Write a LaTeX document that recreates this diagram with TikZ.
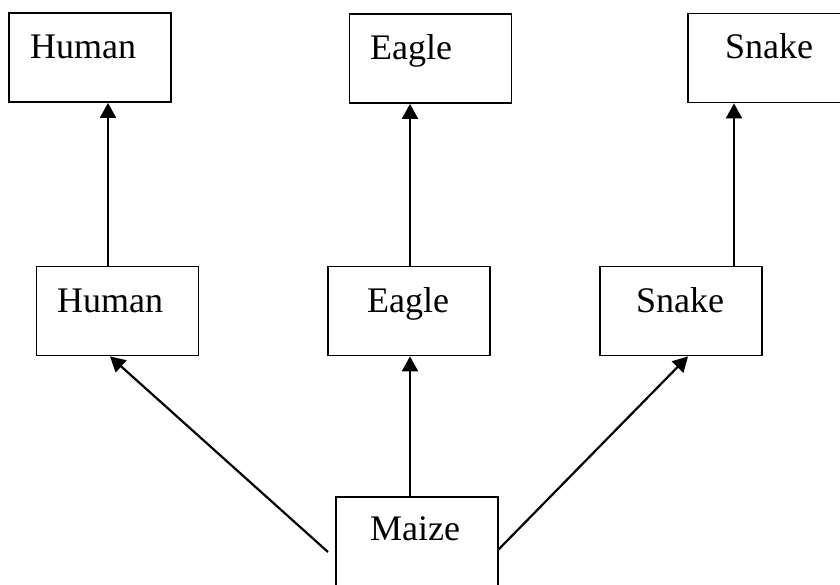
\documentclass[tikz,border=0pt]{standalone}
\usepackage{fontspec}
\setmainfont{Liberation Serif}
\usetikzlibrary{arrows.meta}
\begin{document}
\begin{tikzpicture}[x=1pt,y=-1pt,
  box/.style={draw,line width=1.8pt,rectangle,inner sep=0pt,minimum width=162pt,minimum height=89pt},
  lbl/.style={anchor=base west,inner sep=0pt,font=\fontsize{36}{40}\selectfont},
  arr/.style={line width=2.2pt,-{Triangle[length=15pt,width=16pt]}},
  ln/.style={line width=2.2pt}]
\useasboundingbox (0,0) rectangle (840,584);
\clip (0,0) rectangle (840,584);
% top row
\node[box] (ht) at (90,57.5) {};
\node[box] (et) at (430.5,58.5) {};
\node[box] (st) at (769,58) {};
% middle row
\node[box] (hm) at (117.5,311) {};
\node[box] (em) at (409,311) {};
\node[box] (sm) at (681,311) {};
% bottom
\node[box,minimum height=100pt] (mz) at (417,547) {};
% labels
\node[lbl] (tht) at (30,58) {Human};
\node[lbl] (tet) at (370,59) {Eagle};
\node[lbl] (tst) at (725,58) {Snake};
\node[lbl] (thm) at (57,312) {Human};
\node[lbl] (tem) at (367,312) {Eagle};
\node[lbl] (tsm) at (636,312) {Snake};
\node[lbl] (tmz) at (370,540) {Maize};
% connectors
\draw[arr] ([xshift=-9.5pt]hm.north) -- ([xshift=18pt]ht.south);
\draw[arr] ([xshift=1pt]em.north) -- ([xshift=-20.5pt]et.south);
\draw[arr] ([xshift=53pt]sm.north) -- ([xshift=-35pt]st.south);
\draw[arr] ([xshift=-7pt]mz.north) -- ([xshift=1pt]em.south);
\coordinate (lft) at (328,552);
\coordinate (rgt) at (498,550);
\draw[arr] (lft) -- ([xshift=-7.5pt]hm.south);
\draw[arr] (rgt) -- ([xshift=7pt]sm.south);
\end{tikzpicture}
\end{document}
